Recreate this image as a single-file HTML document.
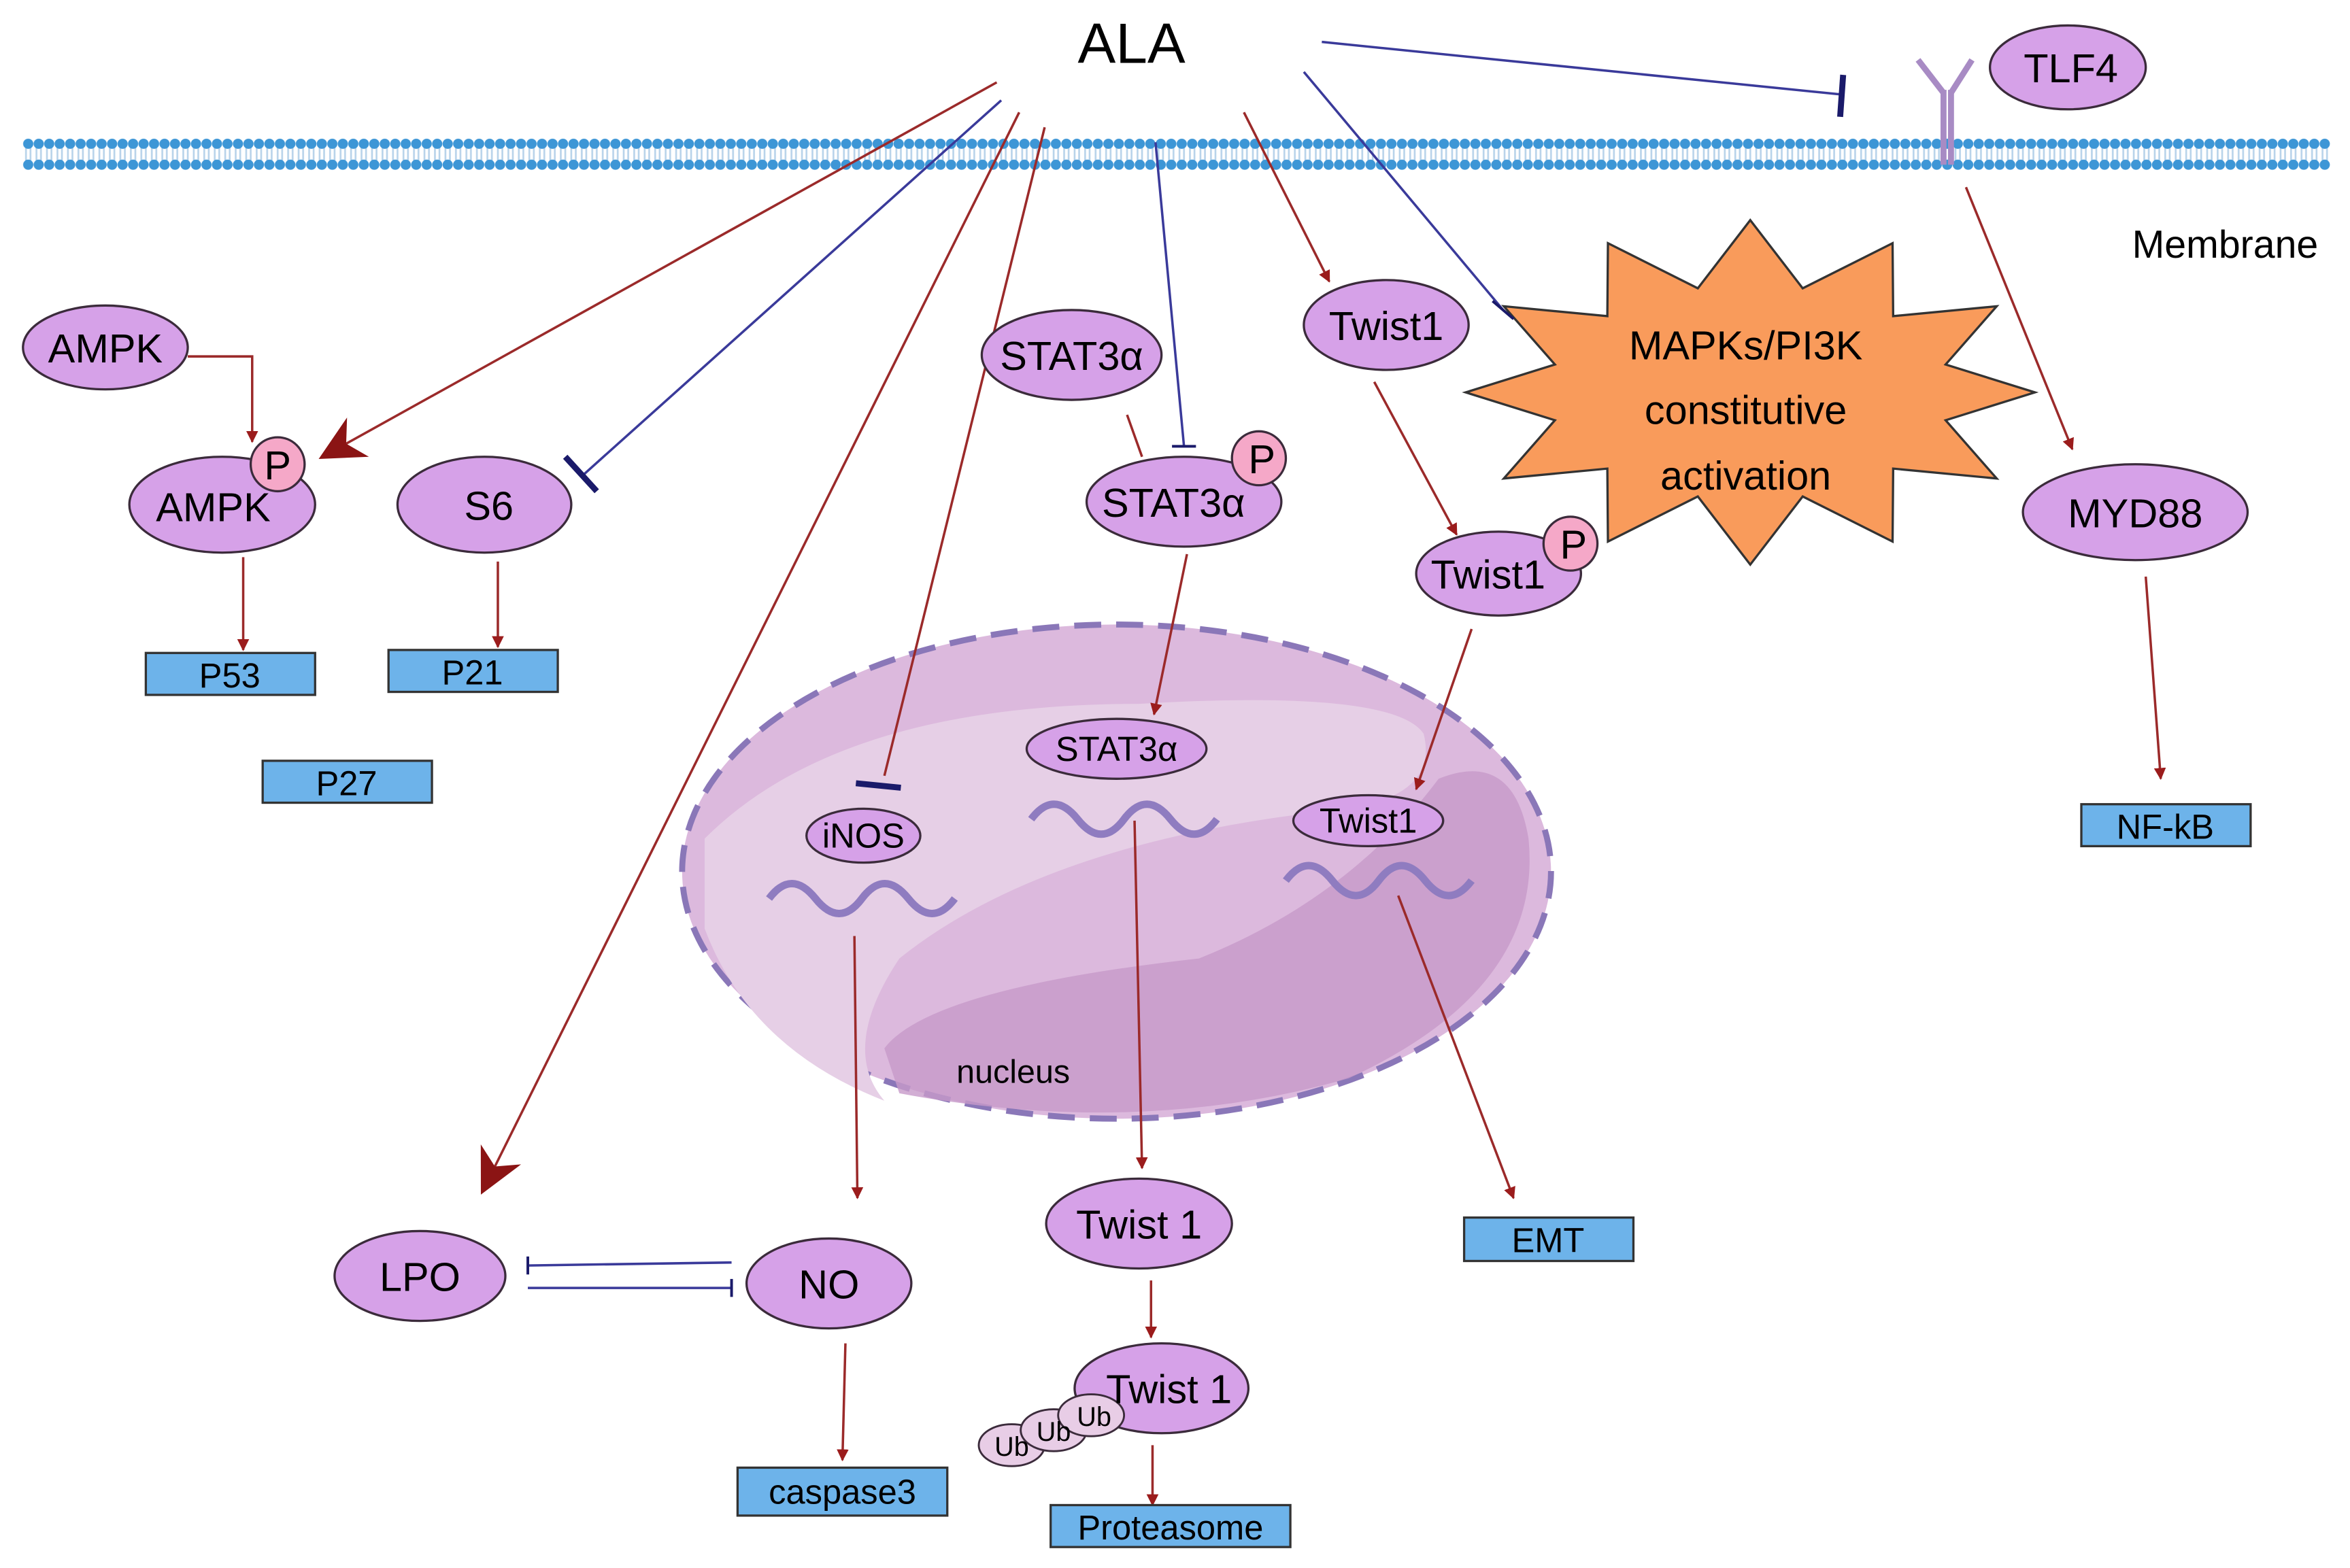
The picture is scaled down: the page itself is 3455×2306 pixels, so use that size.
<!DOCTYPE html>
<html><head><meta charset="utf-8"><style>html,body{margin:0;padding:0;background:#fff}svg{display:block}</style></head><body>
<svg width="3455" height="2306" viewBox="0 0 1568 1047" xmlns="http://www.w3.org/2000/svg" font-family="Liberation Sans, sans-serif">
<defs>
<pattern id="mem" x="15" y="92" width="7" height="22" patternUnits="userSpaceOnUse">
<line x1="2" y1="4" x2="2" y2="18" stroke="#b8d3ea" stroke-width="1.2"/><line x1="5" y1="4" x2="5" y2="18" stroke="#b8d3ea" stroke-width="1.2"/>
<circle cx="3.5" cy="4" r="3.4" fill="#3d96d6"/><circle cx="3.5" cy="18" r="3.4" fill="#3d96d6"/>
</pattern>
<marker id="ar" viewBox="0 0 10 10" refX="9" refY="5" markerWidth="8" markerHeight="8" orient="auto" markerUnits="userSpaceOnUse"><path d="M0,0L10,5L0,10z" fill="#9b1c1c"/></marker>
<marker id="big" viewBox="0 0 10 10" refX="9" refY="5" markerWidth="40" markerHeight="30" orient="auto" markerUnits="userSpaceOnUse"><path d="M0,0L10,5L0,10L3,5z" fill="#8b1414"/></marker>
</defs>
<text x="755" y="42" font-size="38" text-anchor="middle">ALA</text>
<rect x="15" y="92" width="1540" height="22" fill="url(#mem)"/>
<text x="1485" y="172" font-size="26" text-anchor="middle">Membrane</text>
<!-- nucleus -->
<ellipse cx="745" cy="582" rx="290" ry="165" fill="#dcb9dd" stroke="#8a77b8" stroke-width="4" stroke-dasharray="18,10"/>
<path d="M470,560 Q560,470 760,470 Q930,460 950,490 Q960,530 900,540 Q700,560 600,640 Q560,700 590,735 Q500,700 470,620z" fill="#e6cfe6"/>
<path d="M590,700 Q620,660 800,640 Q900,600 960,520 Q1010,500 1020,560 Q1030,660 900,720 Q760,760 600,730z" fill="#c79ac9" opacity="0.8"/>
<text x="676" y="723" font-size="22" text-anchor="middle">nucleus</text>
<g fill="none" stroke="#8f7cc0" stroke-width="5">
<path d="M513,600 q15,-20 31,0 t31,0 t31,0 t31,0"/>
<path d="M688,547 q15,-20 31,0 t31,0 t31,0 t31,0"/>
<path d="M858,588 q15,-20 31,0 t31,0 t31,0 t31,0"/>
</g>
<!-- starburst -->
<polygon points="1358,262 1298.4,280.6 1332.5,319.5 1263.4,312.9 1263,361.6 1203,331.5 1168,377 1133,331.5 1073,361.6 1072.6,312.9 1003.5,319.5 1037.6,280.6 978,262 1037.6,243.4 1003.5,204.5 1072.6,211.1 1073,162.4 1133,192.5 1168,147 1203,192.5 1263,162.4 1263.4,211.1 1332.5,204.5 1298.4,243.4" fill="#f99b5b" stroke="#333" stroke-width="1.5"/>
<g font-size="27" text-anchor="middle"><text x="1165" y="240">MAPKs/PI3K</text><text x="1165" y="283">constitutive</text><text x="1165" y="327">activation</text></g>
<!-- connectors -->
<g stroke="#9b2a2a" stroke-width="1.6" fill="none">
<line x1="665" y1="55" x2="215" y2="305" marker-end="url(#big)"/>
<line x1="680" y1="75" x2="322" y2="795" marker-end="url(#big)"/>
<line x1="697" y1="85" x2="590" y2="518"/>
<line x1="830" y1="75" x2="887" y2="188" marker-end="url(#ar)"/>
<line x1="1312" y1="125" x2="1383" y2="300" marker-end="url(#ar)"/>
<polyline points="125,238 168,238 168,295" marker-end="url(#ar)"/>
<line x1="162" y1="372" x2="162" y2="434" marker-end="url(#ar)"/>
<line x1="332" y1="375" x2="332" y2="432" marker-end="url(#ar)"/>
<line x1="752" y1="277" x2="762" y2="305"/>
<line x1="792" y1="370" x2="770" y2="477" marker-end="url(#ar)"/>
<line x1="917" y1="255" x2="972" y2="357" marker-end="url(#ar)"/>
<line x1="982" y1="420" x2="945" y2="527" marker-end="url(#ar)"/>
<line x1="1432" y1="385" x2="1442" y2="520" marker-end="url(#ar)"/>
<line x1="757" y1="548" x2="762" y2="780" marker-end="url(#ar)"/>
<line x1="570" y1="625" x2="572" y2="800" marker-end="url(#ar)"/>
<line x1="933" y1="598" x2="1010" y2="800" marker-end="url(#ar)"/>
<line x1="768" y1="855" x2="768" y2="893" marker-end="url(#ar)"/>
<line x1="769" y1="965" x2="769" y2="1005" marker-end="url(#ar)"/>
<line x1="564" y1="897" x2="562" y2="975" marker-end="url(#ar)"/>
</g>
<g stroke="#3a3a9a" stroke-width="1.6">
<line x1="668" y1="67" x2="388" y2="318"/>
<line x1="771" y1="95" x2="790" y2="298"/>
<line x1="870" y1="48" x2="1003" y2="207"/>
<line x1="882" y1="28" x2="1228" y2="63"/>
<line x1="352" y1="845" x2="488" y2="843"/>
<line x1="352" y1="860" x2="488" y2="860"/>
</g>
<g stroke="#1a1a6a" stroke-width="4">
<line x1="377" y1="305" x2="398" y2="328"/>
<line x1="1230" y1="50" x2="1228" y2="78"/>
<line x1="571" y1="523" x2="601" y2="526"/>
</g>
<g stroke="#1a1a6a" stroke-width="1.8">
<line x1="782" y1="298" x2="798" y2="298"/>
<line x1="996" y1="201" x2="1010" y2="213"/>
<line x1="352" y1="839" x2="352" y2="851"/>
<line x1="488" y1="854" x2="488" y2="866"/>
</g>
<!-- receptor -->
<g stroke="#a88bc4" stroke-width="4" fill="none">
<line x1="1297" y1="60" x2="1297" y2="110"/><line x1="1302" y1="60" x2="1302" y2="110"/>
<line x1="1297" y1="62" x2="1280" y2="40"/><line x1="1302" y1="62" x2="1316" y2="40"/>
</g>
<!-- nodes -->
<g fill="#d6a1e8" stroke="#3b2b3b" stroke-width="1.5">
<ellipse cx="1380" cy="45" rx="52" ry="28"/>
<ellipse cx="70" cy="232" rx="55" ry="28"/>
<ellipse cx="148" cy="337" rx="62" ry="32"/>
<ellipse cx="323" cy="337" rx="58" ry="32"/>
<ellipse cx="715" cy="237" rx="60" ry="30"/>
<ellipse cx="790" cy="335" rx="65" ry="30"/>
<ellipse cx="925" cy="217" rx="55" ry="30"/>
<ellipse cx="1000" cy="383" rx="55" ry="28"/>
<ellipse cx="1425" cy="342" rx="75" ry="32"/>
<ellipse cx="745" cy="500" rx="60" ry="20"/>
<ellipse cx="913" cy="548" rx="50" ry="17"/>
<ellipse cx="576" cy="558" rx="38" ry="18"/>
<ellipse cx="280" cy="852" rx="57" ry="30"/>
<ellipse cx="553" cy="857" rx="55" ry="30"/>
<ellipse cx="760" cy="817" rx="62" ry="30"/>
<ellipse cx="775" cy="927" rx="58" ry="30"/>
</g>
<g fill="#f5a8c8" stroke="#3b2b3b" stroke-width="1.5">
<circle cx="185" cy="310" r="18"/><circle cx="840" cy="306" r="18"/><circle cx="1048" cy="363" r="18"/>
</g>
<g fill="#e8cde6" stroke="#3b2b3b" stroke-width="1.3">
<ellipse cx="675" cy="965" rx="22" ry="14"/><ellipse cx="703" cy="955" rx="22" ry="14"/><ellipse cx="728" cy="945" rx="22" ry="14"/>
</g>
<g font-size="18" text-anchor="middle"><text x="675" y="972">Ub</text><text x="703" y="962">Ub</text><text x="730" y="952">Ub</text></g>
<g fill="#6db3ea" stroke="#333" stroke-width="1.5">
<rect x="97" y="436" width="113" height="28"/><rect x="259" y="434" width="113" height="28"/><rect x="175" y="508" width="113" height="28"/>
<rect x="1389" y="537" width="113" height="28"/><rect x="977" y="813" width="113" height="29"/>
<rect x="492" y="980" width="140" height="32"/><rect x="701" y="1005" width="160" height="28"/>
</g>
<g font-size="27" text-anchor="middle">
<text x="1382" y="55">TLF4</text><text x="70" y="242">AMPK</text><text x="142" y="348">AMPK</text><text x="326" y="347">S6</text>
<text x="715" y="247">STAT3α</text><text x="783" y="345">STAT3α</text><text x="925" y="227">Twist1</text><text x="993" y="393">Twist1</text>
<text x="1425" y="352">MYD88</text><text x="280" y="862">LPO</text><text x="553" y="867">NO</text>
<text x="760" y="827">Twist 1</text><text x="780" y="937">Twist 1</text>
<text x="185" y="320">P</text><text x="842" y="316">P</text><text x="1050" y="373">P</text>
</g>
<g font-size="23" text-anchor="middle">
<text x="745" y="508">STAT3α</text><text x="913" y="556">Twist1</text><text x="576" y="566">iNOS</text>
<text x="153" y="459">P53</text><text x="315" y="457">P21</text><text x="231" y="531">P27</text>
<text x="1445" y="560">NF-kB</text><text x="1033" y="836">EMT</text><text x="562" y="1004">caspase3</text><text x="781" y="1028">Proteasome</text>
</g>
</svg>
</body></html>
